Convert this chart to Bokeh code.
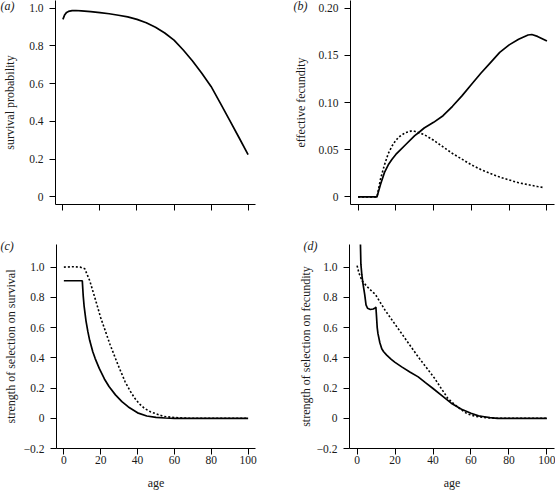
from bokeh.plotting import figure
from bokeh.layouts import column, row
from bokeh.models import Range1d, FixedTicker, Label
from bokeh.embed import file_html
from bokeh.resources import INLINE

# ---------------- data ----------------
age_ticks = [0, 20, 40, 60, 80, 100]
age_tick_labels = ["0", "20", "40", "60", "80", "100"]

# (a) survival probability
age_a = [0, 1, 2, 3, 5, 7, 10, 15, 20, 25, 30, 35, 40, 45, 50, 55, 60, 65, 70, 75, 80, 85, 90, 95, 100]
surv_a = [0.94, 0.965, 0.977, 0.982, 0.986, 0.987, 0.985, 0.981, 0.976, 0.970, 0.962, 0.953, 0.940,
          0.922, 0.898, 0.868, 0.830, 0.778, 0.720, 0.655, 0.585, 0.497, 0.407, 0.316, 0.224]
ticks_a = [0, 0.2, 0.4, 0.6, 0.8, 1.0]
labels_a = ["0", "0.2", "0.4", "0.6", "0.8", "1.0"]

# (b) effective fecundity
age_b_solid = [0, 10, 11, 12, 14, 16, 18, 20, 22, 25, 30, 32, 35, 40, 45, 50, 55, 60, 65, 70, 75, 80,
               85, 90, 92, 95, 100]
fec_b_solid = [0, 0, 0.007, 0.014, 0.026, 0.034, 0.040, 0.045, 0.049, 0.055, 0.065, 0.068, 0.073, 0.079,
               0.086, 0.096, 0.107, 0.119, 0.131, 0.142, 0.153, 0.161, 0.167, 0.1715, 0.172, 0.170, 0.165]
age_b_dot = [0, 10, 11, 12, 14, 16, 18, 20, 22, 25, 28, 30, 35, 40, 45, 50, 55, 60, 65, 70, 75, 80, 85,
             90, 95, 98]
fec_b_dot = [0, 0, 0.010, 0.020, 0.034, 0.046, 0.054, 0.060, 0.064, 0.068, 0.0698, 0.0695, 0.066, 0.060,
             0.053, 0.046, 0.040, 0.034, 0.029, 0.025, 0.021, 0.018, 0.015, 0.013, 0.011, 0.010]
ticks_b = [0, 0.05, 0.10, 0.15, 0.20]
labels_b = ["0", "0.05", "0.10", "0.15", "0.20"]

# (c) strength of selection on survival
age_c_solid = [0, 10, 10.5, 11, 12, 13, 14, 15.7, 17, 19.2, 22, 24.5, 28, 31.5, 35, 40, 45, 50, 55, 60, 100]
sel_c_solid = [0.91, 0.91, 0.81, 0.74, 0.645, 0.575, 0.516, 0.44, 0.395, 0.33, 0.26, 0.21, 0.155, 0.11,
               0.075, 0.036, 0.015, 0.006, 0.002, 0, 0]
age_c_dot = [0, 5, 9, 11.3, 14, 17.5, 20, 22.7, 25, 28, 30, 33.3, 36, 38.5, 41, 43.7, 47, 50, 54, 58,
             62, 66, 70, 100]
sel_c_dot = [1.0, 1.003, 1.0, 0.99, 0.912, 0.77, 0.665, 0.571, 0.49, 0.396, 0.335, 0.24, 0.18, 0.132,
             0.095, 0.066, 0.043, 0.03, 0.013, 0.007, 0.003, 0.001, 0, 0]

# (d) strength of selection on fecundity
age_d_solid = [1, 1.5, 2, 2.5, 3, 3.5, 4, 4.7, 5.5, 7, 8.5, 9.5, 9.9, 10.2, 10.6, 11, 12, 13, 14, 15.6,
               18, 20, 23.5, 28, 32.2, 36, 40, 45, 49.6, 55, 60, 64, 67, 70, 74, 100]
sel_d_solid = [1.9, 1.3, 1.02, 0.95, 0.9, 0.86, 0.82, 0.75, 0.728, 0.72, 0.723, 0.73, 0.736, 0.68, 0.6,
               0.56, 0.5, 0.46, 0.44, 0.418, 0.39, 0.37, 0.34, 0.305, 0.274, 0.236, 0.197, 0.147, 0.1,
               0.06, 0.033, 0.016, 0.01, 0.004, 0, 0]
age_d_dot = [0, 1, 2.6, 5, 8.2, 9.6, 14.8, 23.5, 32.2, 40.8, 44.3, 47.8, 51, 55, 58, 62, 65, 70, 74, 100]
sel_d_dot = [1.01, 0.96, 0.91, 0.875, 0.835, 0.82, 0.714, 0.56, 0.406, 0.265, 0.198, 0.132, 0.095,
             0.055, 0.03, 0.014, 0.008, 0.002, 0, 0]

ticks_cd = [-0.2, 0, 0.2, 0.4, 0.6, 0.8, 1.0]
labels_cd = ["\u22120.2", "0", "0.2", "0.4", "0.6", "0.8", "1.0"]

ylabel_a = "survival probability"
ylabel_b = "effective fecundity"
ylabel_c = "strength of selection on survival"
ylabel_d = "strength of selection on fecundity"
xlabel = "age"
panel_letters = ["a", "b", "c", "d"]

# ---------------- styling / layout ----------------
FONT = "Liberation Serif"
TICK_FS = "11.5px"
LAB_FS = "12px"
TXT = "#1a1a1a"
X0, X1 = -4, 104


def make_panel(w, h, bl, br, bt, bb, yr, yticks, ylabels, ylab, ystand, show_x_labels):
    p = figure(width=w, height=h, output_backend="svg", toolbar_location=None,
               x_range=Range1d(X0, X1), y_range=Range1d(*yr),
               min_border_left=bl, min_border_right=br, min_border_top=bt, min_border_bottom=bb)
    p.outline_line_color = None
    p.grid.visible = False
    p.background_fill_color = "white"
    p.border_fill_color = "white"
    for ax in (p.xaxis[0], p.yaxis[0]):
        ax.axis_line_color = "black"
        ax.axis_line_width = 1
        ax.major_tick_line_color = "black"
        ax.major_tick_out = 6
        ax.major_tick_in = 0
        ax.minor_tick_line_color = None
        ax.major_label_text_font = FONT
        ax.major_label_text_font_size = TICK_FS
        ax.major_label_text_color = TXT
        ax.axis_label_text_font = FONT
        ax.axis_label_text_font_size = LAB_FS
        ax.axis_label_text_font_style = "normal"
        ax.axis_label_text_color = TXT
        ax.major_label_standoff = 6
    p.xaxis.ticker = FixedTicker(ticks=age_ticks)
    p.xaxis.major_label_overrides = {t: l for t, l in zip(age_ticks, age_tick_labels)}
    if show_x_labels:
        p.xaxis.axis_label = xlabel
        p.xaxis.major_label_standoff = 1
        p.xaxis.axis_label_standoff = 9
    else:
        p.xaxis.major_label_text_color = None
        p.xaxis.major_label_text_font_size = "1px"
        p.xaxis.major_label_standoff = 0
    p.yaxis.ticker = FixedTicker(ticks=yticks)
    p.yaxis.major_label_overrides = {t: l for t, l in zip(yticks, ylabels)}
    p.yaxis.axis_label = ylab
    p.yaxis.axis_label_standoff = ystand
    return p


def add_letter(p, letter, side, x, y):
    p.add_layout(Label(x=x, y=y, x_units="screen", y_units="screen", text="(" + letter + ")",
                       text_font=FONT, text_font_size="12px", text_font_style="italic",
                       text_align="left", text_baseline="middle", text_color=TXT), side)


SOLID = dict(line_color="black", line_width=1.7)
DOT = dict(line_color="black", line_width=1.6, line_dash="2 2")

yr_a = (-0.04, 1.04)
yr_b = (-0.008, 0.208)
yr_cd = (-0.2, 1.15)

# left column: width 277, frame 51..255 ; right column: width 278, frame 72..277
# top row: height 226, frame 0..204 ; bottom row: height 266, frame 18..223
pa = make_panel(277, 226, 51, 22, 0, 22, yr_a, ticks_a, labels_a, ylabel_a, 9, False)
pa.line(age_a, surv_a, **SOLID)
add_letter(pa, panel_letters[0], "right", -255, 199)

pb = make_panel(278, 226, 72, 1, 0, 22, yr_b, ticks_b, labels_b, ylabel_b, 7, False)
pb.line(age_b_dot, fec_b_dot, **DOT)
pb.line(age_b_solid, fec_b_solid, **SOLID)
add_letter(pb, panel_letters[1], "left", 16, 199)

pc = make_panel(277, 266, 51, 22, 18, 43, yr_cd, ticks_cd, labels_cd, ylabel_c, 3, True)
pc.line(age_c_dot, sel_c_dot, **DOT)
pc.line(age_c_solid, sel_c_solid, **SOLID)
add_letter(pc, panel_letters[2], "right", -255, 203)

pd = make_panel(278, 266, 72, 1, 18, 43, yr_cd, ticks_cd, labels_cd, ylabel_d, 1, True)
pd.line(age_d_dot, sel_d_dot, **DOT)
pd.line(age_d_solid, sel_d_solid, **SOLID)
add_letter(pd, panel_letters[3], "left", 22, 203)

layout = column(row(pa, pb), row(pc, pd))

open("out.html", "w").write(file_html(layout, INLINE))
